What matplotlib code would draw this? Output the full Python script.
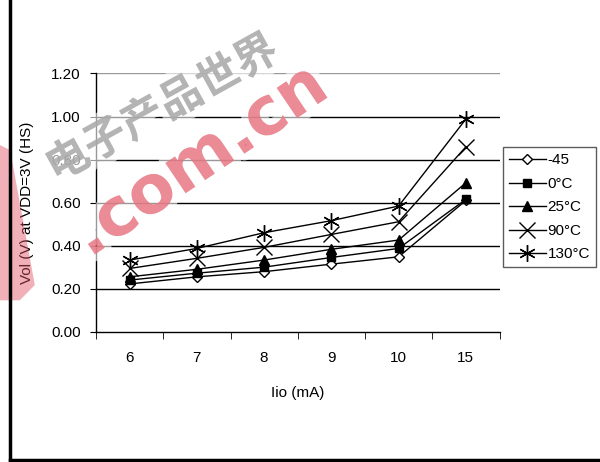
import matplotlib.pyplot as plt
import matplotlib.patheffects as pe
from matplotlib.patches import Polygon
from matplotlib.lines import Line2D
import numpy as np

plt.rcParams['font.family'] = ['Liberation Sans', 'DejaVu Sans']

# data
currents = ['6', '7', '8', '9', '10', '15']
vol_m45 = [0.222, 0.255, 0.279, 0.314, 0.348, 0.61]
vol_0 = [0.24, 0.272, 0.30, 0.345, 0.387, 0.615]
vol_25 = [0.255, 0.29, 0.333, 0.383, 0.426, 0.692]
vol_90 = [0.294, 0.341, 0.392, 0.452, 0.511, 0.859]
vol_130 = [0.333, 0.387, 0.46, 0.516, 0.584, 0.988]
labels = ['-45', '0°C', '25°C', '90°C', '130°C']
yticks = [0.0, 0.2, 0.4, 0.6, 0.8, 1.0, 1.2]

fig = plt.figure(figsize=(6, 4.62), dpi=100)
ax = fig.add_axes([0.16, 0.282, 0.6725, 0.559])

x = np.arange(len(currents))
styles = [
    dict(marker='D', markersize=5.5, markerfacecolor='white', markeredgewidth=1),
    dict(marker='s', markersize=6, markerfacecolor='black'),
    dict(marker='^', markersize=6.5, markerfacecolor='black'),
    dict(marker='x', markersize=11, markeredgewidth=1),
    dict(marker=(6, 2, 0), markersize=12, markeredgewidth=1),
]
series = [vol_m45, vol_0, vol_25, vol_90, vol_130]
handles = []
for vals, st, lab in zip(series, styles, labels):
    h, = ax.plot(x, vals, color='black', linewidth=1, markeredgecolor='black',
                 zorder=3, label=lab, **st)
    handles.append(h)

for v in yticks[1:]:
    ax.axhline(v, color='black' if v < 1.1 else '#999999', linewidth=1, zorder=1)

ax.set_xlim(-0.5, len(currents) - 0.5)
ax.set_ylim(0, 1.2)
ax.set_yticks(yticks)
ax.set_yticklabels(['%.2f' % v for v in yticks], fontsize=11)
ax.set_xticks(x)
ax.set_xticklabels(currents, fontsize=11)
ax.set_xticks(np.arange(len(currents) + 1) - 0.5, minor=True)
ax.tick_params(axis='x', which='major', length=0, pad=14)
ax.tick_params(axis='x', which='minor', length=5, direction='out')
ax.tick_params(axis='y', length=4, direction='out', pad=7)
for s in ['top', 'right']:
    ax.spines[s].set_visible(False)
for s in ['left', 'bottom']:
    ax.spines[s].set_linewidth(1)
ax.set_xlabel('Iio (mA)', fontsize=11, labelpad=15)
ax.set_ylabel('Vol (V) at VDD=3V (HS)', fontsize=11, labelpad=12)

leg = fig.legend(handles=handles, loc='upper left', bbox_to_anchor=(0.838, 0.681),
                 fontsize=11, frameon=True, fancybox=False, edgecolor='#333333',
                 handlelength=2.4, labelspacing=0.62, handletextpad=0.12,
                 borderpad=0.4, borderaxespad=0)
leg.get_frame().set_linewidth(1)

# watermark
glow = [pe.withStroke(linewidth=10, foreground='white', alpha=0.6)]
fig.text(0.333, 0.652, '.com.cn', fontsize=48, fontweight='bold', color='#e05060',
         alpha=0.55, rotation=34, ha='center', va='center', rotation_mode='anchor',
         family='DejaVu Sans', zorder=5, path_effects=glow)
fig.text(0.27, 0.765, '电子产品世界', fontsize=31, color='#999999', alpha=0.65,
         rotation=29, ha='center', va='center', rotation_mode='anchor',
         family=['Noto Sans CJK SC'], fontweight='bold', zorder=5, path_effects=glow)
fig.patches.append(Polygon([[0.0, 0.686], [0.017, 0.675], [0.058, 0.383],
                            [0.033, 0.35], [0.0, 0.35]],
                           closed=True, transform=fig.transFigure,
                           facecolor='#e05060', alpha=0.45, edgecolor='none'))

# frame lines of the original figure
fig.add_artist(Line2D([0.016, 0.016], [0.004, 1.0], transform=fig.transFigure,
                      color='black', linewidth=2.5))
fig.add_artist(Line2D([0.016, 1.0], [0.004, 0.004], transform=fig.transFigure,
                      color='black', linewidth=2.5))

fig.savefig('out.png', dpi=100)
